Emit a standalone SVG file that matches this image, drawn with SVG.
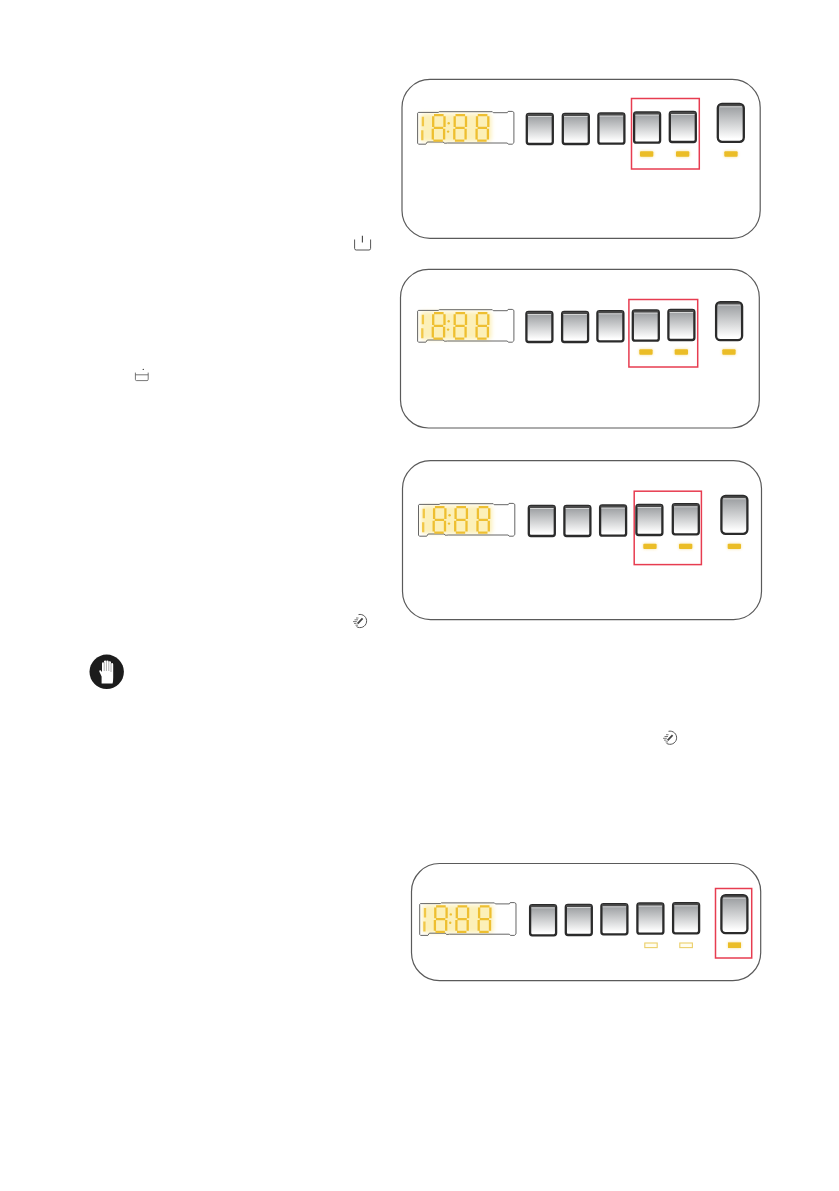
<svg xmlns="http://www.w3.org/2000/svg" xmlns:xlink="http://www.w3.org/1999/xlink" width="839" height="1191" viewBox="0 0 839 1191">
<style>
.panel{fill:#fff;stroke:#5a5a5a;stroke-width:1.2}
.red{fill:none;stroke:#e73c50;stroke-width:1.5}
.led{fill:#ebbd28;filter:url(#ledGlow)}
.ledoff{fill:#fffdf0;stroke:#eccf6a;stroke-width:1.1}
.seg{fill:none;stroke:#eebf30;stroke-width:2.3}
.icon{fill:none;stroke:#555;stroke-width:1}
.btnbody{fill:url(#btnGrad);stroke:#2b2b2b;stroke-width:2.3}
</style>
<defs>
<linearGradient id="btnGrad" x1="0" y1="0" x2="0" y2="1">
<stop offset="0" stop-color="#94979a"/><stop offset="0.92" stop-color="#ffffff"/>
</linearGradient>
<filter id="blur" x="-10%" y="-25%" width="120%" height="150%"><feGaussianBlur stdDeviation="2"/></filter>
<filter id="ledGlow" x="-40%" y="-100%" width="180%" height="300%">
<feGaussianBlur in="SourceGraphic" stdDeviation="1.5" result="b"/>
<feComponentTransfer in="b" result="c"><feFuncA type="linear" slope="0.5"/></feComponentTransfer>
<feMerge><feMergeNode in="c"/><feMergeNode in="SourceGraphic"/></feMerge>
</filter>
<g id="eight">
<path class="seg" d="M2.2,0.8H11.8M2,13.5H11.4M1.6,26.2H11M1.4,1.8V12.6M12.7,1.8V12.6M1,14.4V25.2M12.3,14.4V25.2"/>
</g>
<g id="display">
<rect x="3" y="2.5" width="71" height="28" rx="4" fill="#fcf0b8" filter="url(#blur)"/>
<path d="M1,1.2H21L22,0.5H75L76,1.5H90L90.8,0.2H95L96.6,1.2V31.5L95,33H91L90,31.8H30L28.6,32H27L26,30.8H10L8.5,33H1.2L0.3,32V2Z" fill="none" stroke="#555" stroke-width="0.9"/>
<path class="seg" d="M5.6,5.5V15M5,19V29" stroke-opacity="0.85"/>
<use xlink:href="#eight" href="#eight" x="14.5" y="3.2"/>
<use xlink:href="#eight" href="#eight" x="36" y="3.2"/>
<use xlink:href="#eight" href="#eight" x="58.3" y="3.2"/>
<circle cx="31.4" cy="12" r="1.2" fill="#eebf30"/>
<circle cx="30.8" cy="20.4" r="1.2" fill="#eebf30"/>
</g>
<g id="btn">
<rect class="btnbody" x="1.1" y="1.1" width="26" height="30.2" rx="2.2"/>
<rect x="1.6" y="1.2" width="25" height="2.2" fill="#4a4a4a"/>
<path d="M2.4,3.8H25.8" stroke="#e4e4e4" stroke-width="0.8"/>
</g>
<g id="bigbtn">
<rect class="btnbody" x="1.1" y="1.1" width="26" height="38" rx="4.2"/>
<path d="M2.4,3.6Q3,1.6 5,1.6H23Q25.2,1.6 25.8,3.6Z" fill="#4a4a4a"/>
<path d="M3,4.1H25.2" stroke="#e4e4e4" stroke-width="0.8"/>
</g>
<g id="rapid">
<path d="M-1.5,-6.4A6.6,6.6 0 1 1 -3.5,5.6" class="icon"/>
<path d="M-2.4,2.6L2.6,-2.6" stroke="#444" stroke-width="1.8" fill="none"/>
<path d="M-4,-3H-1.5M-5.5,-1.2H-2M-7,0.6H-3.2M-6,2.4H-3.5M-4.5,4.2H-2" stroke="#555" stroke-width="0.8" fill="none"/>
</g>
</defs>
<rect width="839" height="1191" fill="#fff"/>

<g id="panel-1">
<rect class="panel" x="402" y="79.4" width="358.2" height="159" rx="28"/>
<use href="#display" x="417.3" y="111.2"/>
<use href="#btn" x="525.7" y="112.7"/><use href="#btn" x="561.7" y="112.7"/><use href="#btn" x="597.3" y="112.3"/><use href="#btn" x="633" y="111.3"/><use href="#btn" x="668.7" y="110.7"/>
<use href="#bigbtn" x="716.7" y="102.7"/>
<rect class="led" x="640" y="151.3" width="13.3" height="5.4" rx="1"/><rect class="led" x="676" y="151.3" width="13.3" height="5.4" rx="1"/><rect class="led" x="724.3" y="151.3" width="13.3" height="5.4" rx="1"/>
<rect class="red" x="631.5" y="98.5" width="67.8" height="70.5"/>
</g>

<g id="panel-2">
<rect class="panel" x="400.5" y="269.4" width="358.8" height="158.6" rx="28"/>
<use href="#display" x="417.3" y="309.2"/>
<use href="#btn" x="525.3" y="310.7"/><use href="#btn" x="561" y="310.7"/><use href="#btn" x="596.3" y="310"/><use href="#btn" x="631.7" y="309.3"/><use href="#btn" x="667.3" y="308.7"/>
<use href="#bigbtn" x="715" y="301"/>
<rect class="led" x="639.3" y="349.3" width="13.3" height="5.4" rx="1"/><rect class="led" x="674.7" y="349.3" width="13.3" height="5.4" rx="1"/><rect class="led" x="722.3" y="349.3" width="13.3" height="5.4" rx="1"/>
<rect class="red" x="628.9" y="299.5" width="68.8" height="67.5"/>
</g>

<g id="panel-3">
<rect class="panel" x="402.5" y="460.6" width="359" height="159" rx="28"/>
<use href="#display" x="418.2" y="503.2"/>
<use href="#btn" x="527.7" y="504.7"/><use href="#btn" x="563.3" y="504.7"/><use href="#btn" x="599" y="504.3"/><use href="#btn" x="635.3" y="503.7"/><use href="#btn" x="671.7" y="503"/>
<use href="#bigbtn" x="720.3" y="494.7"/>
<rect class="led" x="643.3" y="543.7" width="13.3" height="5.4" rx="1"/><rect class="led" x="679" y="543.7" width="13.3" height="5.4" rx="1"/><rect class="led" x="727.7" y="543.7" width="13.3" height="5.4" rx="1"/>
<rect class="red" x="634.2" y="491.2" width="67.2" height="73.4"/>
</g>

<g id="panel-4">
<rect class="panel" x="411.5" y="863.5" width="349.2" height="117.2" rx="28"/>
<use href="#display" x="419.4" y="902.4"/>
<use href="#btn" x="529" y="904"/><use href="#btn" x="564.7" y="903.7"/><use href="#btn" x="600.3" y="903"/><use href="#btn" x="636.3" y="902.3"/><use href="#btn" x="672" y="902"/>
<use href="#bigbtn" x="720.3" y="894"/>
<rect class="ledoff" x="644.8" y="943" width="12.4" height="4.6"/><rect class="ledoff" x="679.8" y="943" width="12.6" height="4.6"/>
<rect class="led" x="728" y="942.4" width="13" height="5.6"/>
<rect class="red" x="715.5" y="888.5" width="36.2" height="69.5"/>
</g>

<g id="icon-power">
<path class="icon" d="M354.6,239.5V248.4Q354.6,250 356.2,250H369Q370.6,250 370.6,248.4V239.5"/>
<path d="M362.4,235.8V242.4" stroke="#444" stroke-width="1.1"/>
</g>
<g id="icon-tub">
<path class="icon" d="M135.4,372.6V379.4Q135.4,380.6 136.6,380.6H147Q148.2,380.6 148.2,379.4V372.6M135.4,374.8H148.2" stroke-opacity="0.8"/>
<circle cx="143.3" cy="369.4" r="0.7" fill="#444"/>
</g>
<g id="icon-rapid-1"><use href="#rapid" x="360" y="621"/></g>
<g id="icon-rapid-2"><use href="#rapid" x="670" y="737.7"/></g>
<g id="icon-hand">
<circle cx="106.7" cy="671.8" r="17.2" fill="#1c1c1c"/>
<path d="M101.6,683.6V676.4L99.3,671.6Q99,670 100.6,670.2L102,672V663.4Q102,662.2 103,662.2Q104,662.2 104,663.4V661.6Q104,660.6 105.2,660.6Q106.2,660.6 106.2,661.6V661.2Q106.2,660.4 107.4,660.4Q108.6,660.4 108.6,661.6V662.2Q108.6,661.2 109.8,661.2Q111,661.2 111,662.4V664Q111,663 112,663Q113.2,663 113.2,664.2V677.4Q113.2,681 112.6,683.6Z" fill="#fff"/>
<path d="M104.2,662V671M106.4,661V671M108.8,661.6V671M111,663V672" stroke="#777" stroke-width="0.6" fill="none"/>
</g>
</svg>
